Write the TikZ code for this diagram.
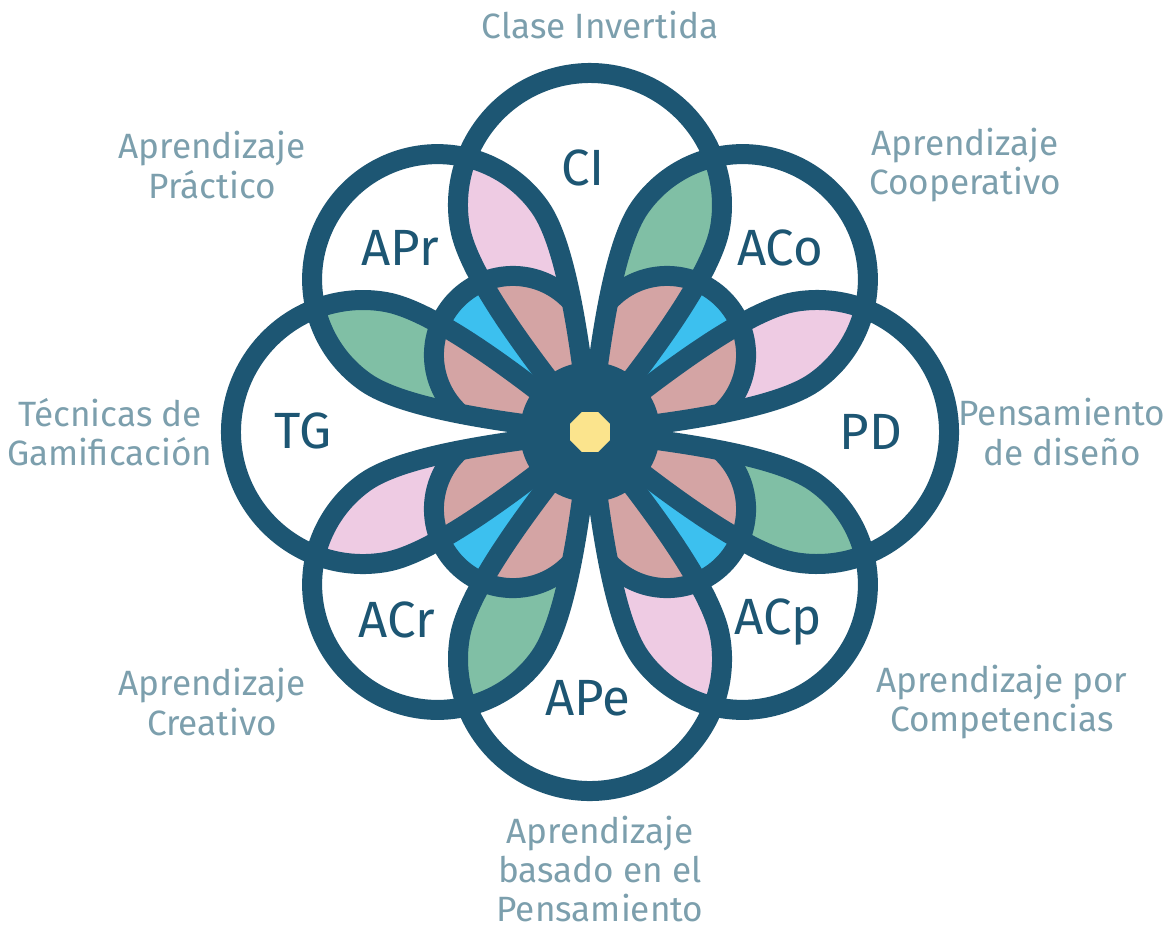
\documentclass[tikz,border=0pt]{standalone}
\usepackage{fontspec}
\setmainfont{Fira Sans}
\usepackage{tikz}

\definecolor{petalblue}{RGB}{29,86,115}
\definecolor{pinkfill}{RGB}{238,203,227}
\definecolor{greenfill}{RGB}{128,191,165}
\definecolor{rosefill}{RGB}{212,164,164}
\definecolor{skyfill}{RGB}{60,192,239}
\definecolor{yellowfill}{RGB}{251,228,141}
\definecolor{labelgrey}{RGB}{124,159,173}

\newcommand{\petal}{(0,0) .. controls (-0.40,0.50) and (-1.204,1.499) .. (-1.300,2.041)
    arc (190:-10:1.32) .. controls (1.204,1.499) and (0.40,0.50) .. (0,0) -- cycle}

\begin{document}
\begin{tikzpicture}[
    petalline/.style={draw=petalblue, line width=0.2cm},
    shorttag/.style={text=petalblue, font=\fontsize{14.5}{14.5}\selectfont},
    longname/.style={text=labelgrey, align=center, font=\fontsize{10}{11.2}\selectfont},
  ]
    \path[use as bounding box, fill=white] (-5.90,-4.97) rectangle (5.77,4.32);

    \foreach \r in {0,90,180,270} {
      \begin{scope}
        \clip[rotate=\r] \petal;
        \fill[pinkfill, rotate=\r+45, scale=0.95] \petal;
      \end{scope}
      \begin{scope}
        \clip[rotate=\r+45, scale=0.95] \petal;
        \fill[greenfill, rotate=\r+90] \petal;
      \end{scope}
      \begin{scope}[rotate=\r+45]
        \clip[scale=0.95] \petal;
        \fill[skyfill] (0,1.09) circle (0.79);
        \clip (0,1.09) circle (0.79);
        \fill[rosefill, rotate=45] \petal;
        \fill[rosefill, rotate=-45] \petal;
      \end{scope}
    }

    \foreach \r in {0,90,180,270} {
      \draw[petalline, rotate=\r] \petal;
      \draw[petalline, rotate=\r+45, scale=0.95] \petal;
      \begin{scope}[rotate=\r+45]
        \clip[scale=0.95] \petal;
        \draw[petalline] (0,1.09) circle (0.79);
      \end{scope}
    }

    \fill[petalblue] (0,0) circle (0.70);
    \fill[yellowfill] (22.5:0.216) \foreach \a in {67.5,112.5,...,337.5} { -- (\a:0.216) } -- cycle;

    \node[shorttag] (ci) at (-0.07,2.64) {CI};
    \node[shorttag] (aco) at (1.90,1.84) {ACo};
    \node[shorttag] (pd) at (2.81,0) {PD};
    \node[shorttag] (acp) at (1.88,-1.90) {ACp};
    \node[shorttag] (ape) at (-0.02,-2.66) {APe};
    \node[shorttag] (acr) at (-1.93,-1.88) {ACr};
    \node[shorttag] (tg) at (-2.87,0.01) {TG};
    \node[shorttag] (apr) at (-1.90,1.84) {APr};

    \node[longname] (ciname) at (0.10,4.07) {Clase Invertida};
    \node[longname] (aconame) at (3.75,2.67) {Aprendizaje\\Cooperativo};
    \node[longname] (pdname) at (4.72,0) {Pensamiento\\de diseño};
    \node[longname] (acpname) at (4.12,-2.70) {Aprendizaje por\\Competencias};
    \node[longname] (apename) at (0.10,-4.37) {Aprendizaje\\basado en el\\Pensamiento};
    \node[longname] (acrname) at (-3.78,-2.70) {Aprendizaje\\Creativo};
    \node[longname] (tgname) at (-4.80,0) {Técnicas de\\Gamificación};
    \node[longname] (aprname) at (-3.78,2.67) {Aprendizaje\\Práctico};
\end{tikzpicture}
\end{document}
